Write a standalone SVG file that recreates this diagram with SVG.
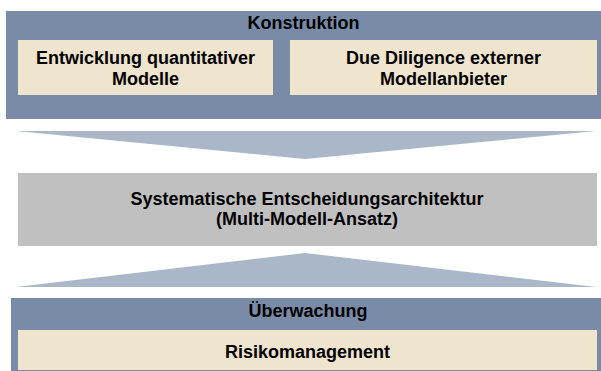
<svg xmlns="http://www.w3.org/2000/svg" width="601" height="371" viewBox="0 0 601 371">
<style>
.outer{fill:#7A8BA8}
.inner{fill:#EFE4CE}
.mid{fill:#C0C0C0}
.fun{fill:#A9B7C9}
text{font-family:"Liberation Sans",Arial,sans-serif;font-weight:bold;font-size:18px;fill:#000;text-anchor:middle}
</style>
<rect width="601" height="371" fill="#fff"/>
<g id="konstruktion">
<rect class="outer" x="6" y="11" width="595" height="108"/>
<text x="303.5" y="29">Konstruktion</text>
</g>
<g id="entwicklung">
<rect class="inner" x="18" y="40" width="255" height="55"/>
<text x="145.5" y="63.5">Entwicklung quantitativer</text>
<text x="145.5" y="84.5">Modelle</text>
</g>
<g id="due-diligence">
<rect class="inner" x="290" y="40" width="307" height="55"/>
<text x="443.5" y="63.5">Due Diligence externer</text>
<text x="443.5" y="84.5">Modellanbieter</text>
</g>
<g id="connectors">
<polygon class="fun" points="16,131 596,131 305,159"/>
<polygon class="fun" points="16,287 596,287 305,253"/>
</g>
<g id="architektur">
<rect class="mid" x="18" y="173" width="579" height="73"/>
<text x="307" y="205">Systematische Entscheidungsarchitektur</text>
<text x="307" y="225">(Multi-Modell-Ansatz)</text>
</g>
<g id="ueberwachung">
<rect class="outer" x="11" y="298" width="590" height="73"/>
<text x="308" y="317">Überwachung</text>
</g>
<g id="risikomanagement">
<rect class="inner" x="18" y="330" width="579" height="40"/>
<text x="307.5" y="358">Risikomanagement</text>
</g>
</svg>
